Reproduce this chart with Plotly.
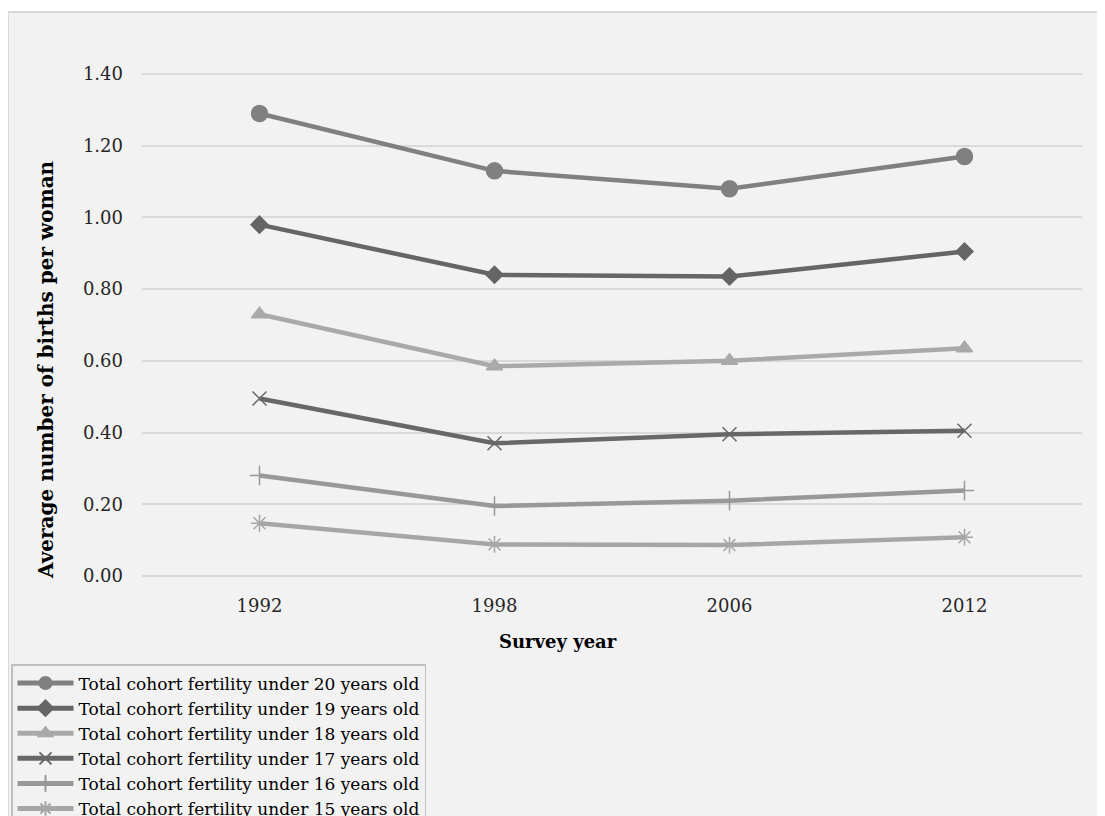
import plotly.graph_objects as go

years = ["1992", "1998", "2006", "2012"]
series_names = [
    "Total cohort fertility under 20 years old",
    "Total cohort fertility under 19 years old",
    "Total cohort fertility under 18 years old",
    "Total cohort fertility under 17 years old",
    "Total cohort fertility under 16 years old",
    "Total cohort fertility under 15 years old",
]
under20 = [1.29, 1.13, 1.08, 1.17]
under19 = [0.98, 0.84, 0.835, 0.905]
under18 = [0.73, 0.585, 0.60, 0.635]
under17 = [0.495, 0.37, 0.395, 0.405]
under16 = [0.28, 0.195, 0.21, 0.238]
under15 = [0.147, 0.088, 0.086, 0.108]
y_ticks = [0.0, 0.2, 0.4, 0.6, 0.8, 1.0, 1.2, 1.4]
y_tick_text = ["0.00", "0.20", "0.40", "0.60", "0.80", "1.00", "1.20", "1.40"]

values = [under20, under19, under18, under17, under16, under15]
colors = ["#808080", "#656565", "#a9a9a9", "#676767", "#989898", "#a6a6a6"]
symbols = ["circle", "diamond", "triangle-up", "x-thin-open", "cross-thin-open", "asterisk-open"]
msizes = [16, 13, 14, 14, 14, 14]

FONT = "DejaVu Serif"

fig = go.Figure()
for name, vals, c, s, ms in zip(series_names, values, colors, symbols, msizes):
    fig.add_trace(go.Scatter(
        x=years, y=vals, name=name, mode="lines+markers",
        line=dict(color=c, width=4.5),
        marker=dict(symbol=s, size=ms, color=c, line=dict(color=c, width=1.5)),
    ))

OFF = 8  # page body margin
W, H = 1097, 808
L, R, T, B = 134, 23, 65, 239
pw, ph = W - L - R, H - T - B

def px(x):
    return (x - OFF - L) / pw

def py(y):
    return (H - B - (y - OFF)) / ph

fig.add_shape(type="rect", xref="paper", yref="paper",
              x0=px(8), x1=px(1120), y0=py(840), y1=py(12),
              fillcolor="#f2f2f2", line=dict(color="#d9d9d9", width=2), layer="below")

fig.add_annotation(text="<b>Survey year</b>", xref="paper", yref="paper",
                   x=px(558), y=py(641), xanchor="center", yanchor="middle", showarrow=False,
                   font=dict(family=FONT, size=18, color="#000"))
fig.add_annotation(text="<b>Average number of births per woman</b>", xref="paper", yref="paper",
                   x=px(46), y=py(370), xanchor="center", yanchor="middle",
                   showarrow=False, textangle=-90,
                   font=dict(family=FONT, size=20, color="#000"))

fig.update_layout(
    width=W, height=H,
    margin=dict(l=L, r=R, t=T, b=B, autoexpand=False),
    paper_bgcolor="white",
    plot_bgcolor="rgba(0,0,0,0)",
    font=dict(family=FONT, size=18, color="#262626"),
    showlegend=True,
    legend=dict(
        x=px(11), y=py(664), xanchor="left", yanchor="top",
        bgcolor="#f2f2f2", bordercolor="#bfbfbf", borderwidth=1.5,
        font=dict(family=FONT, size=17, color="#000"),
        tracegroupgap=0, itemwidth=56, itemsizing="constant",
    ),
    xaxis=dict(
        type="category", range=[-0.5, 3.5], showgrid=False, zeroline=False,
        showline=False, ticks="", ticklabelstandoff=16,
        tickfont=dict(family=FONT, size=18, color="#262626"),
    ),
    yaxis=dict(
        range=[-0.003, 1.403], tickvals=y_ticks, ticktext=y_tick_text,
        showgrid=True, gridcolor="#d9d9d9", gridwidth=2, zeroline=False,
        showline=False, ticks="", ticklabelstandoff=18,
        tickfont=dict(family=FONT, size=18, color="#262626"),
    ),
)

fig.write_html("out.html")
